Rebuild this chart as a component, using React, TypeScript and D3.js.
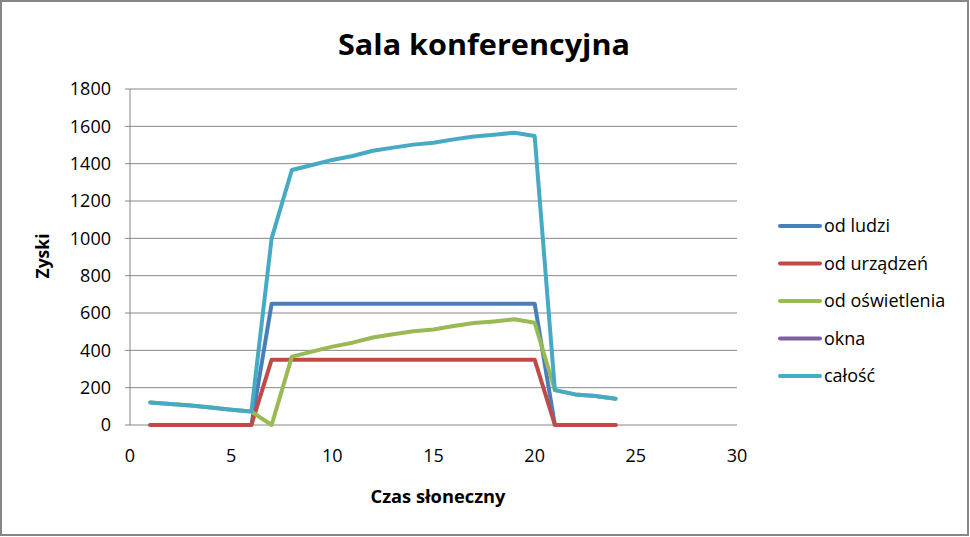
import React from "react";
import * as d3 from "d3";

const hours = [1, 2, 3, 4, 5, 6, 7, 8, 9, 10, 11, 12, 13, 14, 15, 16, 17, 18, 19, 20, 21, 22, 23, 24];
const odLudzi = [0, 0, 0, 0, 0, 0, 650, 650, 650, 650, 650, 650, 650, 650, 650, 650, 650, 650, 650, 650, 0, 0, 0, 0];
const odUrzadzen = [0, 0, 0, 0, 0, 0, 350, 350, 350, 350, 350, 350, 350, 350, 350, 350, 350, 350, 350, 350, 0, 0, 0, 0];
const odOswietlenia = [121, 112, 105, 94, 82, 72, 0, 366, 393, 420, 441, 469, 486, 502, 512, 530, 546, 555, 566, 548, 187, 164, 155, 141];
const okna: (number | null)[] = hours.map(() => null);
const calosc = [121, 112, 105, 94, 82, 72, 1000, 1366, 1393, 1420, 1441, 1469, 1486, 1502, 1512, 1530, 1546, 1555, 1566, 1548, 187, 164, 155, 141];

const seriesNames = ["od ludzi", "od urządzeń", "od oświetlenia", "okna", "całość"];
const seriesColors = ["#4A7EBB", "#BE4B48", "#98B954", "#7D60A0", "#46AAC5"];
const seriesValues = [odLudzi, odUrzadzen, odOswietlenia, okna, calosc];
const yTicks = [0, 200, 400, 600, 800, 1000, 1200, 1400, 1600, 1800];
const xTicks = [0, 5, 10, 15, 20, 25, 30];

const FONT = "'Open Sans', sans-serif";

export default function App() {
  const W = 970, H = 537;
  const left = 130, right = 737, top = 89, bottom = 425;
  const x = d3.scaleLinear().domain([0, 30]).range([left, right]);
  const y = d3.scaleLinear().domain([0, 1800]).range([bottom, top]);
  const line = d3
    .line<[number, number | null]>()
    .defined((d) => d[1] !== null)
    .x((d) => x(d[0]))
    .y((d) => y(d[1] as number));

  return (
    <svg width={W} height={H} style={{ position: "absolute", left: 0, top: 0 }} fontFamily={FONT}>
      <rect x={1} y={1} width={967} height={534} fill="#fff" stroke="#868686" strokeWidth={2} />
      <text x={484} y={55} textAnchor="middle" fontSize={28} fontWeight="bold" textLength={292} lengthAdjust="spacingAndGlyphs">
        Sala konferencyjna
      </text>
      {yTicks.map((t) => (
        <g key={t}>
          <line x1={left - 5} x2={right} y1={y(t)} y2={y(t)} stroke="#868686" strokeWidth={1} />
          <text x={111} y={y(t) + 6.4} textAnchor="end" fontSize={18} fill="#000">
            {t}
          </text>
        </g>
      ))}
      <line x1={left} x2={left} y1={top} y2={bottom} stroke="#868686" strokeWidth={1} />
      {xTicks.map((t) => (
        <text key={t} x={x(t)} y={462} textAnchor="middle" fontSize={18} fill="#000">
          {t}
        </text>
      ))}
      <text x={438} y={503} textAnchor="middle" fontSize={17.5} fontWeight="bold" textLength={135} lengthAdjust="spacingAndGlyphs">
        Czas słoneczny
      </text>
      <text transform="translate(49,256) rotate(-90)" textAnchor="middle" fontSize={17.5} fontWeight="bold">
        Zyski
      </text>
      {seriesValues.map((vals, i) => (
        <path
          key={i}
          d={line(hours.map((h, j) => [h, vals[j]] as [number, number | null])) || ""}
          fill="none"
          stroke={seriesColors[i]}
          strokeWidth={4}
          strokeLinejoin="round"
          strokeLinecap="round"
        />
      ))}
      {seriesNames.map((n, i) => {
        const ly = 226 + i * 37.5;
        return (
          <g key={n}>
            <line x1={780} x2={820} y1={ly} y2={ly} stroke={seriesColors[i]} strokeWidth={4} strokeLinecap="round" />
            <text x={824} y={ly + 6.4} fontSize={18}>
              {n}
            </text>
          </g>
        );
      })}
    </svg>
  );
}
